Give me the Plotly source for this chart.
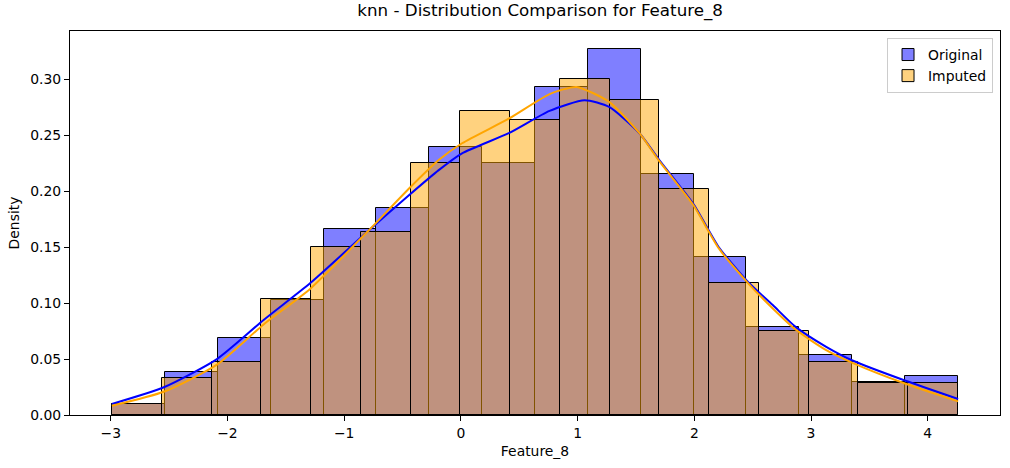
import numpy as np
import plotly.graph_objs as go

# histogram data (density per bin)
data_min = -2.987
data_max = 4.257

original_density = [0.0095, 0.0389, 0.0688, 0.1027, 0.166, 0.1854, 0.2393, 0.225,
                    0.2937, 0.3277, 0.2152, 0.1416, 0.0786, 0.0533, 0.0295, 0.0345]
imputed_density = [0.0098, 0.033, 0.0473, 0.1038, 0.15, 0.164, 0.2255, 0.272, 0.2634,
                   0.3006, 0.2821, 0.2018, 0.1179, 0.0747, 0.047, 0.0286, 0.0282]

# kde curves
kde_x_original = [-2.99, -2.54, -2.09, -1.69, -1.29, -0.79, -0.44, -0.19, 0.01, 0.41, 0.76,
                  1.06, 1.27, 1.53, 1.70, 1.99, 2.21, 2.46, 2.67, 2.87, 3.13, 3.36, 3.81, 4.26]
kde_original = [0.0098, 0.025, 0.050, 0.085, 0.118, 0.165, 0.197, 0.219, 0.234, 0.252, 0.272,
                0.2815, 0.2755, 0.252, 0.228, 0.189, 0.150, 0.119, 0.0985, 0.0786,
                0.061, 0.0485, 0.0306, 0.0143]
kde_x_imputed = [-2.99, -2.54, -2.09, -1.69, -1.29, -0.79, -0.44, -0.19, 0.01, 0.41, 0.76,
                 0.99, 1.27, 1.53, 1.70, 1.99, 2.21, 2.46, 2.67, 2.87, 3.13, 3.36, 3.81, 4.26]
kde_imputed = [0.0083, 0.021, 0.045, 0.081, 0.113, 0.165, 0.203, 0.228, 0.243, 0.265, 0.287,
               0.2934, 0.280, 0.252, 0.227, 0.188, 0.149, 0.118, 0.0955, 0.0762,
               0.058, 0.0464, 0.0279, 0.0122]

FONT = "DejaVu Sans"


def bins(heights):
    edges = np.linspace(data_min, data_max, len(heights) + 1)
    centers = (edges[:-1] + edges[1:]) / 2
    width = edges[1] - edges[0]
    return centers, width


fig = go.Figure()

for name, heights, fill in [
    ("Original", original_density, "rgba(0,0,255,0.5)"),
    ("Imputed", imputed_density, "rgba(255,165,0,0.5)"),
]:
    centers, width = bins(heights)
    fig.add_trace(
        go.Bar(
            x=centers,
            y=heights,
            width=width,
            name=name,
            marker=dict(color=fill, line=dict(color="black", width=1)),
        )
    )

fig.add_trace(go.Scatter(x=kde_x_original, y=kde_original, mode="lines", showlegend=False,
                         line=dict(color="blue", width=2, shape="spline", smoothing=0.6)))
fig.add_trace(go.Scatter(x=kde_x_imputed, y=kde_imputed, mode="lines", showlegend=False,
                         line=dict(color="orange", width=2, shape="spline", smoothing=0.6)))

axis_common = dict(
    showline=True, linecolor="black", linewidth=1, mirror=True,
    ticks="outside", ticklen=5, tickcolor="black", showgrid=False, zeroline=False,
    tickfont=dict(family=FONT, size=13.9, color="black"),
)

fig.update_layout(
    width=1010,
    height=468,
    barmode="overlay",
    bargap=0,
    plot_bgcolor="white",
    paper_bgcolor="white",
    font=dict(family=FONT, size=13.9, color="black"),
    margin=dict(l=70, r=10, t=31, b=53, autoexpand=False),
    title=dict(text="knn - Distribution Comparison for Feature_8", x=0.5348, xanchor="center",
               y=0.978, yanchor="middle", font=dict(family=FONT, size=16.7, color="black")),
    xaxis=dict(range=[-3.349, 4.619], tickmode="array", tickvals=list(range(-3, 5)),
               title=dict(text="Feature_8", standoff=6, font=dict(family=FONT, size=13.9)),
               **axis_common),
    yaxis=dict(range=[0, 0.3434], tickmode="array", tickvals=[0, 0.05, 0.1, 0.15, 0.2, 0.25, 0.3],
               tickformat=".2f",
               title=dict(text="Density", standoff=7, font=dict(family=FONT, size=13.9)),
               **axis_common),
    legend=dict(x=0.9925, y=0.9818, xanchor="right", yanchor="top",
                bgcolor="rgba(255,255,255,0.8)", bordercolor="#cccccc", borderwidth=1,
                font=dict(family=FONT, size=13.9, color="black")),
)

# page body has a default 8px margin, drop it so the figure sits at the corner
fig.write_html("out.html", config={"displayModeBar": False},
               post_script="document.body.style.margin='0px';")
